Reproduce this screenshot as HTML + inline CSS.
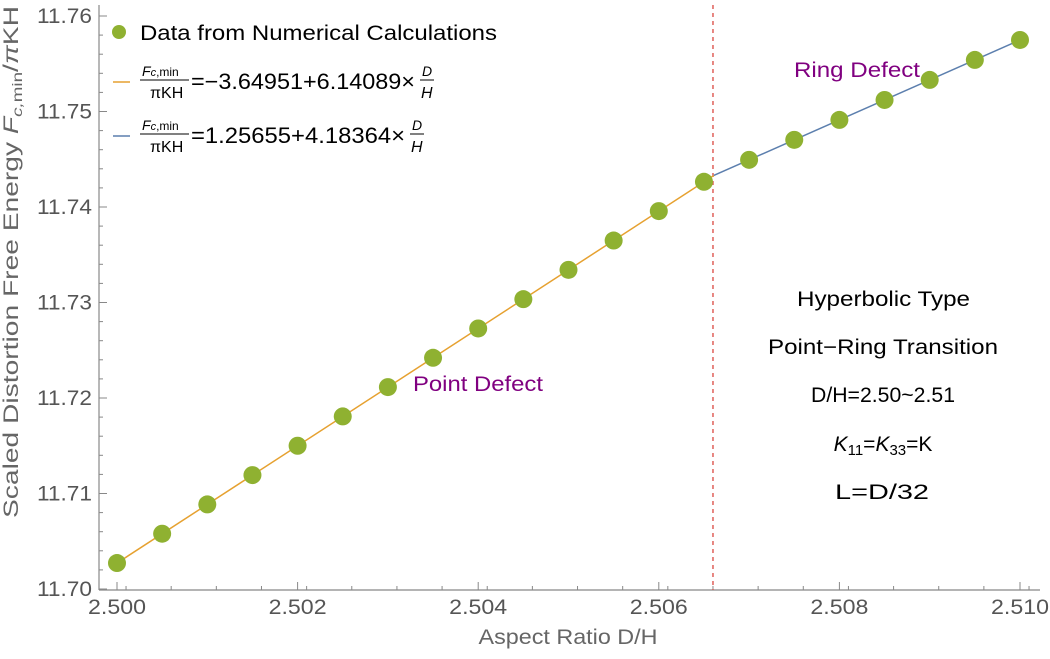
<!DOCTYPE html>
<html><head><meta charset="utf-8"><style>
body{margin:0;background:#fff}
svg, svg text{font-family:"Liberation Sans", Arial, Helvetica, sans-serif}
</style></head><body>
<svg id="chart" width="1050" height="654" xmlns="http://www.w3.org/2000/svg" font-family="Liberation Sans, Arial, sans-serif">
<g id="axes"></g>
<g id="marks"></g>
<text x="18" y="262" transform="rotate(-90 18 262)" text-anchor="middle" font-size="21" fill="#666" textLength="512" lengthAdjust="spacingAndGlyphs">Scaled Distortion Free Energy <tspan font-style="italic">F</tspan><tspan font-style="italic" font-size="14" dy="4">c,</tspan><tspan font-size="14">min</tspan><tspan dy="-4">/</tspan><tspan font-style="italic">π</tspan>KH</text>
<text x="568" y="644" text-anchor="middle" font-size="21" fill="#666" textLength="179" lengthAdjust="spacingAndGlyphs">Aspect Ratio D/H</text>
<g font-size="21" fill="#000">
<circle cx="119" cy="32" r="7" fill="#8fb131"/>
<text x="140" y="40" textLength="357" lengthAdjust="spacingAndGlyphs">Data from Numerical Calculations</text>
<line x1="113" y1="82" x2="130" y2="82" stroke="#e6a130" stroke-width="1.5"/>
<g>
<text x="142" y="76" font-size="14"><tspan font-style="italic">F</tspan><tspan font-style="italic" font-size="11">c</tspan><tspan font-size="12">,min</tspan></text>
<line x1="140" y1="80" x2="189" y2="80" stroke="#000" stroke-width="1"/>
<text x="150" y="98" font-size="16">πKH</text>
<text x="191" y="89" font-size="22" textLength="224" lengthAdjust="spacingAndGlyphs">=−3.64951+6.14089×</text>
<text x="422" y="76" font-size="14" font-style="italic">D</text>
<line x1="420" y1="80" x2="434" y2="80" stroke="#000"/>
<text x="421" y="98" font-size="16" font-style="italic">H</text>
</g>
<line x1="113" y1="136" x2="130" y2="136" stroke="#5c7fae" stroke-width="1.5"/>
<g>
<text x="142" y="130" font-size="14"><tspan font-style="italic">F</tspan><tspan font-style="italic" font-size="11">c</tspan><tspan font-size="12">,min</tspan></text>
<line x1="140" y1="134" x2="189" y2="134" stroke="#000"/>
<text x="150" y="152" font-size="16">πKH</text>
<text x="191" y="143" font-size="22" textLength="214" lengthAdjust="spacingAndGlyphs">=1.25655+4.18364×</text>
<text x="412" y="130" font-size="14" font-style="italic">D</text>
<line x1="410" y1="134" x2="424" y2="134" stroke="#000"/>
<text x="411" y="152" font-size="16" font-style="italic">H</text>
</g>
</g>
<text x="794" y="77" font-size="21" fill="#800080" textLength="126" lengthAdjust="spacingAndGlyphs">Ring Defect</text>
<text x="413" y="391" font-size="21" fill="#800080" textLength="130" lengthAdjust="spacingAndGlyphs">Point Defect</text>
<g font-size="21" fill="#000">
<text x="797" y="306" textLength="173" lengthAdjust="spacingAndGlyphs">Hyperbolic Type</text>
<text x="768" y="354" textLength="230" lengthAdjust="spacingAndGlyphs">Point−Ring Transition</text>
<text x="811" y="402" textLength="144" lengthAdjust="spacingAndGlyphs">D/H=2.50~2.51</text>
<text x="883" y="451" text-anchor="middle"><tspan font-style="italic">K</tspan><tspan font-size="15" dy="4">11</tspan><tspan dy="-4">=</tspan><tspan font-style="italic">K</tspan><tspan font-size="15" dy="4">33</tspan><tspan dy="-4">=K</tspan></text>
<text x="835" y="499" textLength="94" lengthAdjust="spacingAndGlyphs">L=D/32</text>
</g>
</svg>
<script>
const xs1=[2.5000,2.5005,2.5010,2.5015,2.5020,2.5025,2.5030,2.5035,2.5040,2.5045,2.5050,2.5055,2.5060,2.5065];
const ys1=[11.70272,11.70579,11.70886,11.71193,11.71500,11.71807,11.72114,11.72421,11.72728,11.73035,11.73342,11.73649,11.73957,11.74264];
const xs2=[2.5070,2.5075,2.5080,2.5085,2.5090,2.5095,2.5100];
const ys2=[11.74494,11.74703,11.74912,11.75121,11.75331,11.75540,11.75749];
const fit1=[-3.64951,6.14089];
const fit2=[1.25655,4.18364];
const transitionX=2.5066;
const xTicks=["2.500","2.502","2.504","2.506","2.508","2.510"];
const yTicks=["11.70","11.71","11.72","11.73","11.74","11.75","11.76"];
const NS="http://www.w3.org/2000/svg";
const X=v=>117+(v-2.5)/0.01*903;
const Y=v=>589-(v-11.70)/0.06*573;
function mk(tag,at,parent){const e=document.createElementNS(NS,tag);for(const k in at)e.setAttribute(k,at[k]);parent.appendChild(e);return e;}
const ax=document.getElementById('axes'),mg=document.getElementById('marks');
let a=mk('line',{x1:99,y1:590,x2:1040,y2:590,stroke:'#888','stroke-width':1.2},ax);


a=mk('line',{x1:99,y1:5,x2:99,y2:590,stroke:'#888','stroke-width':1.2},ax);


for(let i=0;i<=25;i++){const v=2.4996+i*0.0005;const x=X(v);if(x<100||x>1040)continue;mk('line',{x1:x,y1:590,x2:x,y2:586,stroke:'#888'},ax);}
xTicks.forEach(t=>{const x=X(+t);mk('line',{x1:x,y1:590,x2:x,y2:582,stroke:'#888'},ax);const e=mk('text',{x:x-29,y:614,'font-size':21,fill:'#555',textLength:58,lengthAdjust:'spacingAndGlyphs'},ax);e.textContent=t;

});
for(let i=0;i<=30;i++){const v=11.70+i*0.002;const y=Y(v);mk('line',{x1:99,y1:y,x2:i%5==0?107:103,y2:y,stroke:'#888'},ax);}
yTicks.forEach(t=>{const y=Y(+t);const e=mk('text',{x:37,y:y+7,'font-size':21,fill:'#555',textLength:55,lengthAdjust:'spacingAndGlyphs'},ax);e.textContent=t;

});
let l=mk('line',{x1:X(transitionX),y1:5,x2:X(transitionX),y2:590,stroke:'#e0605a','stroke-width':1.5,'stroke-dasharray':'4,4'},mg);


const xi=(fit2[0]-fit1[0])/(fit1[1]-fit2[1]);
l=mk('line',{x1:X(2.5),y1:Y(fit1[0]+fit1[1]*2.5),x2:X(xi),y2:Y(fit1[0]+fit1[1]*xi),stroke:'#e6a130','stroke-width':1.5},mg);


l=mk('line',{x1:X(xi),y1:Y(fit2[0]+fit2[1]*xi),x2:X(2.51),y2:Y(fit2[0]+fit2[1]*2.51),stroke:'#5c7fae','stroke-width':1.5},mg);


xs1.concat(xs2).forEach((x,i)=>{const y=i<xs1.length?ys1[i]:ys2[i-xs1.length];const c=mk('circle',{cx:X(x),cy:Y(y),r:9,fill:'#8fb131'},mg);

});
</script>
</body></html>
